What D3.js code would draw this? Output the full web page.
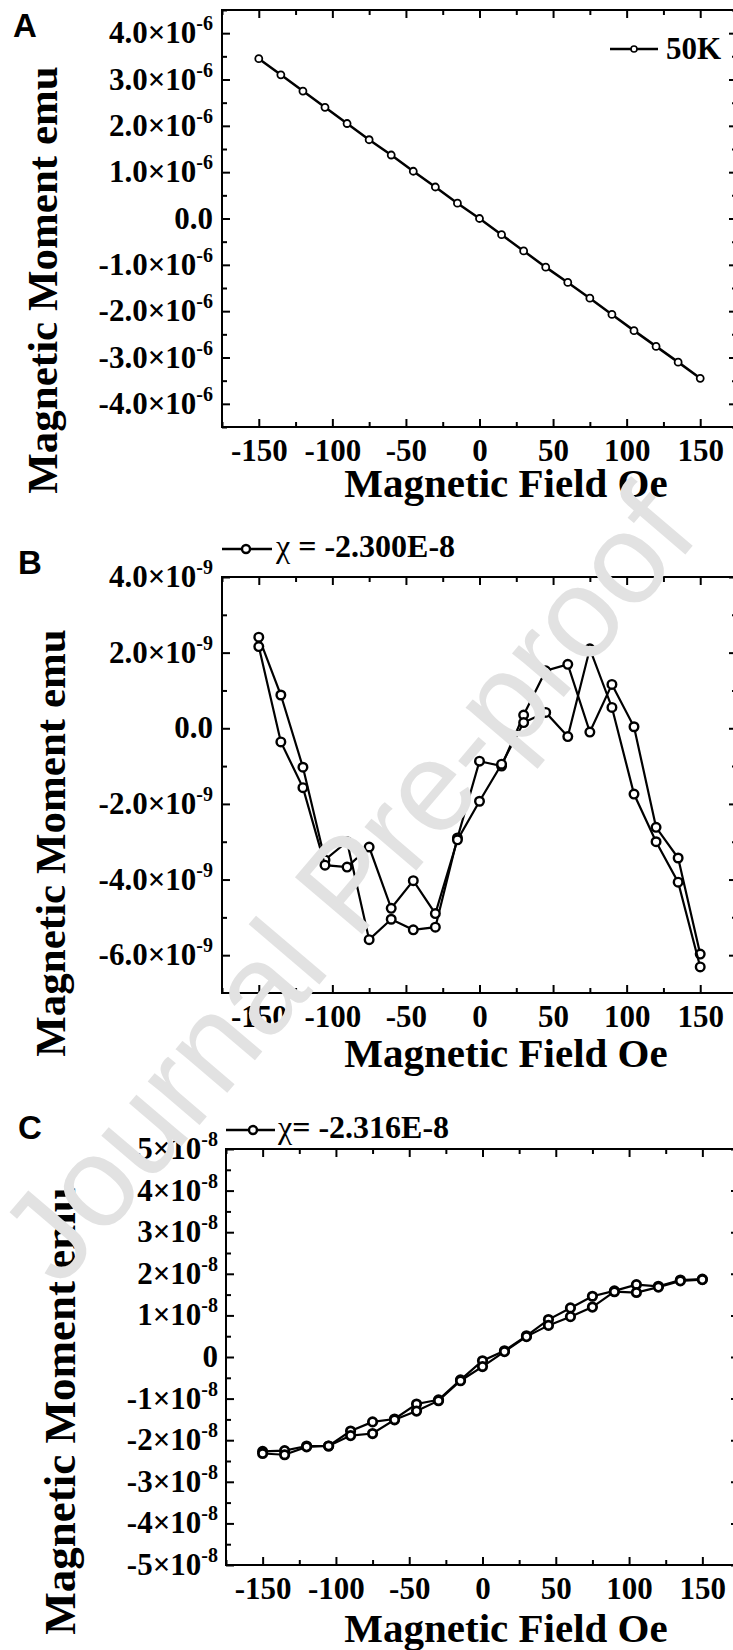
<!DOCTYPE html>
<html>
<head>
<meta charset="utf-8">
<script src="https://cdn.jsdelivr.net/npm/d3@7"></script>
<style>
  body { margin: 0; background: #fff; }
  svg { display: block; }
  text { font-family: "Liberation Serif", "Times New Roman", serif; font-weight: bold; fill: #000; }
</style>
</head>
<body>
<svg id="fig" width="733" height="1650"></svg>
<script>
// field steps used in all three sweeps (Oe)
const field_oe = [-150, -135, -120, -105, -90, -75, -60, -45, -30, -15, 0, 15, 30, 45, 60, 75, 90, 105, 120, 135, 150]

// A: 50K sweep, moment in units of 1e-6 emu
const moment_a = [3.45, 3.10, 2.75, 2.40, 2.05, 1.70, 1.37, 1.02, 0.68, 0.33, 0.00, -0.35, -0.70, -1.05, -1.38, -1.72, -2.07, -2.42, -2.76, -3.10, -3.45]

// B: two branches, units of 1e-9 emu
const moment_b1 = [2.41, 0.88, -1.03, -3.48, -3.00, -5.59, -5.05, -5.33, -5.26, -2.90, -0.87, -1.00, 0.35, 1.52, 1.69, -0.10, 1.16, 0.04, -2.62, -3.43, -5.97]
const moment_b2 = [2.16, -0.36, -1.57, -3.62, -3.67, -3.14, -4.76, -4.03, -4.90, -2.95, -1.93, -0.95, 0.15, 0.42, -0.22, 2.10, 0.55, -1.74, -3.00, -4.07, -6.31]

// C: two branches, units of 1e-8 emu
const moment_c1 = [-2.27, -2.25, -2.14, -2.14, -1.78, -1.56, -1.49, -1.13, -1.03, -0.55, -0.09, 0.15, 0.51, 0.90, 1.18, 1.46, 1.59, 1.74, 1.70, 1.85, 1.87]
const moment_c2 = [-2.32, -2.35, -2.16, -2.14, -1.89, -1.84, -1.51, -1.30, -1.05, -0.57, -0.23, 0.13, 0.49, 0.76, 0.97, 1.20, 1.57, 1.55, 1.68, 1.83, 1.86]

const x_ticks = [-150, -100, -50, 0, 50, 100, 150]
const x_minor = [-175, -125, -75, -25, 25, 75, 125, 175]
const y_ticks_a = [-4, -3, -2, -1, 0, 1, 2, 3, 4]
const y_ticks_b = [-6, -4, -2, 0, 2, 4]
const y_ticks_c = [-5, -4, -3, -2, -1, 0, 1, 2, 3, 4, 5]

const legend_a = '50K'
const legend_b = ['χ', ' = -2.300E-8']
const legend_c = ['χ', '= -2.316E-8']
const x_title = 'Magnetic Field Oe'
const y_title = 'Magnetic Moment emu'

const svg = d3.select('#fig')

const panels = [
  { letter: 'A', letter_x: 13, letter_y: 37,
    left: 222, top: 10, right: 737, bottom: 427,
    y_domain: [-4.5, 4.5], y_ticks: y_ticks_a, y_minor: d3.range(-4.5, 4.6, 1),
    fmt: v => v === 0 ? ['0.0', ''] : [v.toFixed(1) + '×10', '-6'],
    series: [moment_a], r: 3.5, marker_w: 1.8, line_w: 2.5,
    title_x: 57, title_y: 280, title_size: 43, xt_y: 497, lab_right: 213 },
  { letter: 'B', letter_x: 18, letter_y: 574,
    left: 222, top: 577, right: 737, bottom: 993,
    y_domain: [-7, 4], y_ticks: y_ticks_b, y_minor: [-5, -3, -1, 1, 3],
    fmt: v => v === 0 ? ['0.0', ''] : [v.toFixed(1) + '×10', '-9'],
    series: [moment_b1, moment_b2], r: 4.3, marker_w: 2.4, line_w: 2.2,
    title_x: 65, title_y: 843, title_size: 43, xt_y: 1067, lab_right: 213 },
  { letter: 'C', letter_x: 18, letter_y: 1139,
    left: 226, top: 1149, right: 739, bottom: 1565,
    y_domain: [-5, 5], y_ticks: y_ticks_c, y_minor: d3.range(-4.5, 4.6, 1),
    fmt: v => v === 0 ? ['0', ''] : [v + '×10', '-8'],
    series: [moment_c1, moment_c2], r: 4.2, marker_w: 2.8, line_w: 2.2,
    title_x: 75, title_y: 1411, title_size: 45, xt_y: 1642, lab_right: 218 }
]

function drawPanel(p) {
  const x = d3.scaleLinear().domain([-175, 175]).range([p.left, p.right])
  const y = d3.scaleLinear().domain(p.y_domain).range([p.bottom, p.top])
  const g = svg.append('g')

  const ticks = (axis, tx, ty) => {
    const a = g.append('g').attr('transform', `translate(${tx},${ty})`).call(axis)
    a.select('.domain').remove()
    a.selectAll('line').attr('stroke', '#000').attr('stroke-width', 2)
    return a
  }
  // major + minor ticks on all four sides, all pointing inward
  const xb = ticks(d3.axisBottom(x).tickValues(x_ticks).tickSize(-8).tickPadding(12).tickFormat(d => String(d)), 0, p.bottom)
  xb.attr('font-family', null).attr('font-size', 31)
  xb.selectAll('text').attr('fill', '#000')
  ticks(d3.axisBottom(x).tickValues(x_minor).tickSize(-5).tickFormat(''), 0, p.bottom)
  ticks(d3.axisTop(x).tickValues(x_ticks).tickSize(-8).tickFormat(''), 0, p.top)
  ticks(d3.axisTop(x).tickValues(x_minor).tickSize(-5).tickFormat(''), 0, p.top)
  ticks(d3.axisLeft(y).tickValues(p.y_ticks).tickSize(-8).tickFormat(''), p.left, 0)
  ticks(d3.axisLeft(y).tickValues(p.y_minor).tickSize(-5).tickFormat(''), p.left, 0)
  ticks(d3.axisRight(y).tickValues(p.y_ticks).tickSize(-8).tickFormat(''), p.right, 0)
  ticks(d3.axisRight(y).tickValues(p.y_minor).tickSize(-5).tickFormat(''), p.right, 0)

  g.append('rect')
    .attr('x', p.left).attr('y', p.top)
    .attr('width', p.right - p.left).attr('height', p.bottom - p.top)
    .attr('fill', 'none').attr('stroke', '#000').attr('stroke-width', 2)

  // y tick labels with superscript exponent
  const yl = g.selectAll('text.ylab').data(p.y_ticks).enter().append('text')
    .classed('ylab', true)
    .attr('x', p.lab_right).attr('y', d => y(d) + 10)
    .attr('text-anchor', 'end').attr('font-size', 31)
  yl.append('tspan').text(d => p.fmt(d)[0])
  yl.append('tspan').attr('dy', -13).attr('font-size', 20).text(d => p.fmt(d)[1])

  const line = d3.line().x((d, i) => x(field_oe[i])).y(d => y(d))
  p.series.forEach(s => {
    g.append('path').datum(s).attr('d', line)
      .attr('fill', 'none').attr('stroke', '#000').attr('stroke-width', p.line_w)
    g.selectAll(null).data(s).enter().append('circle')
      .attr('cx', (d, i) => x(field_oe[i])).attr('cy', d => y(d)).attr('r', p.r)
      .attr('fill', '#fff').attr('stroke', '#000').attr('stroke-width', p.marker_w)
  })

  g.append('text').attr('x', 506).attr('y', p.xt_y)
    .attr('text-anchor', 'middle').attr('font-size', 41).text(x_title)
  g.append('text')
    .attr('transform', `translate(${p.title_x},${p.title_y}) rotate(-90)`)
    .attr('text-anchor', 'middle').attr('font-size', p.title_size).text(y_title)
  g.append('text').attr('x', p.letter_x).attr('y', p.letter_y)
    .style('font-family', '"Liberation Sans", Arial, sans-serif')
    .attr('font-size', 33).text(p.letter)
}

panels.forEach(drawPanel)

// legends
function legendMark(lx0, lx1, cx, ly, r, w) {
  svg.append('line').attr('x1', lx0).attr('x2', lx1).attr('y1', ly).attr('y2', ly)
    .attr('stroke', '#000').attr('stroke-width', 2.5)
  svg.append('circle').attr('cx', cx).attr('cy', ly).attr('r', r)
    .attr('fill', '#fff').attr('stroke', '#000').attr('stroke-width', w)
}
legendMark(610, 658, 634, 49, 3, 1.6)
svg.append('text').attr('x', 666).attr('y', 59).attr('font-size', 31).text(legend_a)

legendMark(222, 272, 246, 549, 4, 2.4)
const lb = svg.append('text').attr('x', 276).attr('y', 557).attr('font-size', 32)
lb.append('tspan').attr('font-weight', 'normal').text(legend_b[0])
lb.append('tspan').text(legend_b[1])

legendMark(226, 275, 253, 1130, 4, 2.4)
const lc = svg.append('text').attr('x', 278).attr('y', 1138).attr('font-size', 32)
lc.append('tspan').attr('font-weight', 'normal').text(legend_c[0])
lc.append('tspan').text(legend_c[1])

// journal watermark laid over everything
svg.append('text')
  .attr('transform', 'translate(60,1289) rotate(-49.6)')
  .attr('text-anchor', 'start')
  .style('font-family', '"Liberation Sans", Arial, sans-serif')
  .style('font-weight', 'normal').style('fill', '#e2e2e2')
  .attr('font-size', 128).text('Journal Pre-proof')
</script>
</body>
</html>
